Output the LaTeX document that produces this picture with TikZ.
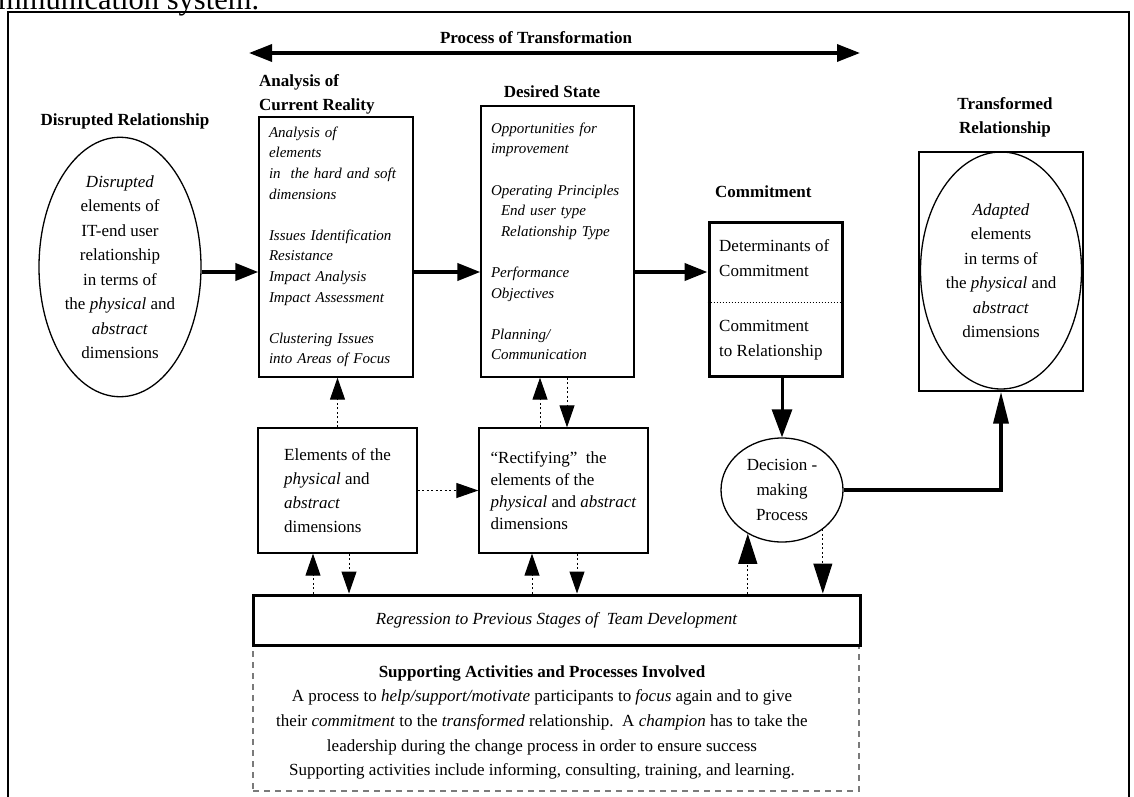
\documentclass[tikz,border=0pt]{standalone}
\usepackage{fontspec}
\setmainfont{Liberation Serif}
\usetikzlibrary{arrows.meta,positioning,calc,shapes.geometric}
\definecolor{ink}{HTML}{000000}
\definecolor{dashgray}{HTML}{7A7A7A}
\newcommand{\bodyfont}{\fontsize{17}{24.5}\selectfont}
\newcommand{\headfont}{\fontsize{17}{24}\selectfont\bfseries}
\newcommand{\listfont}{\fontsize{15}{20.6}\selectfont\itshape}
\tikzset{box/.style={draw=ink,line width=1.3pt,inner sep=0pt},
  ell/.style={ellipse,draw=ink,line width=1.3pt,inner sep=0pt,align=center,font=\bodyfont},
  lab/.style={font=\headfont,inner sep=0pt},
  txt/.style={font=\bodyfont,inner sep=0pt},
  lst/.style={box,font=\listfont,align=left,inner xsep=10pt,inner ysep=0pt},
  flow/.style={draw=ink,line width=4pt,-{Triangle[length=23pt,width=17pt]}},
  dflow/.style={draw=ink,line width=1pt,dash pattern=on 2pt off 2.5pt,-{Triangle[length=22pt,width=15pt]}},
  bdflow/.style={dflow,-{Triangle[length=30pt,width=19pt]}}}

\begin{document}
\begin{tikzpicture}[x=1pt,y=-1pt]
\useasboundingbox (0,0) rectangle (1134,797);
\begin{scope}
\clip (0,0) rectangle (1134,797);
\node[font=\fontsize{30.5}{30}\selectfont,anchor=base west,inner sep=0pt] (cap) at (-2,10) {mmunication system.};
\draw[line width=2pt] (8,805) -- (8,12) -- (1129,12) -- (1129,805);
\end{scope}
\coordinate (pL) at (249,53);
\coordinate (pR) at (860,53);
\coordinate (mid) at (0,272);
\node[lab,anchor=base] (proc) at (536,44) {Process of Transformation};
\draw[draw=ink,line width=3.5pt,{Triangle[length=23pt,width=17pt]}-{Triangle[length=23pt,width=17pt]}] (pL) -- (pR);
\node[lab,anchor=base] (dislab) at (125,125) {Disrupted Relationship};
\node[lab,anchor=north west,align=left] (analab) at (259,74) {Analysis of\\Current Reality};
\node[lab,anchor=base] (deslab) at (552,98) {Desired State};
\node[lab,anchor=base west] (comlab) at (715,197) {Commitment};
\node[lab,anchor=north,align=center] (trnlab) at (1005,97) {Transformed\\Relationship};
\node[ell,minimum width=162pt,minimum height=240pt] (dis) at (120,267) {\textit{Disrupted}\\elements of\\IT-end user\\relationship\\in terms of\\the \textit{physical} and\\\textit{abstract}\\dimensions};
\node[lst,text width=134pt,minimum height=260pt] (ana) at (336,247) {Analysis of\\elements\\in\ \ the hard and soft\\dimensions\\[20.6pt]Issues Identification\\Resistance\\Impact Analysis\\Impact Assessment\\[20.6pt]Clustering Issues\\into Areas of Focus};
\node[lst,text width=133pt,minimum height=271pt] (des) at (557.5,241.5) {Opportunities for\\improvement\\[20.6pt]Operating Principles\\\hspace*{10pt}End user type\\\hspace*{10pt}Relationship Type\\[20.6pt]Performance\\Objectives\\[20.6pt]Planning/\\Communication};
\node[box,line width=3pt,minimum width=133pt,minimum height=154pt] (com) at (775.5,299) {};
\draw[draw=ink,line width=1pt,dotted] ([yshift=-3pt]com.west) -- ([yshift=-3pt]com.east);
\node[txt,anchor=west,align=left] (detm) at (719,258) {Determinants of\\Commitment};
\node[txt,anchor=west,align=left] (crel) at (719,340) {Commitment\\to Relationship};
\node[box,minimum width=164pt,minimum height=239pt] (trnbox) at (1001,271.5) {};
\node[ell,minimum width=161pt,minimum height=237pt] (trn) at (1001,270.5) {\textit{Adapted}\\elements\\in terms of\\the \textit{physical} and\\\textit{abstract}\\dimensions};
\node[box,txt,align=left,minimum width=159pt,minimum height=125pt,font=\fontsize{17}{24}\selectfont] (ele) at (337.5,490.5) {Elements of the\\\textit{physical} and\\\textit{abstract}\\dimensions};
\node[box,txt,align=left,minimum width=169pt,minimum height=125pt,font=\fontsize{17}{22}\selectfont] (rec) at (563.5,490.5) {“Rectifying”\ \ the\\elements of the\\\textit{physical} and \textit{abstract}\\dimensions};
\node[ell,minimum width=122pt,minimum height=104pt,font=\fontsize{17}{25}\selectfont] (dec) at (782,490) {Decision -\\making\\Process};
\node[box,draw=dashgray,dash pattern=on 6pt off 5pt,minimum width=606pt,minimum height=146pt] (sup) at (556,718) {};
\node[box,line width=3pt,fill=white,minimum width=607pt,minimum height=50pt,font=\bodyfont\itshape] (reg) at (556.5,620) {Regression to Previous Stages of\ \ Team Development};
\node[txt,anchor=north,align=center,font=\fontsize{17}{24.7}\selectfont] (suptxt) at (542,665) {\textbf{Supporting Activities and Processes Involved}\\A process to \textit{help/support/motivate} participants to \textit{focus} again and to give\\their \textit{commitment} to the \textit{transformed} relationship.\ \ A \textit{champion} has to take the\\leadership during the change process in order to ensure success\\Supporting activities include informing, consulting, training, and learning.};
\draw[flow] (dis.east |- mid) -- (ana.west |- mid);
\draw[flow] (ana.east |- mid) -- (des.west |- mid);
\draw[flow] (des.east |- mid) -- (com.west |- mid);
\draw[draw=ink,line width=3pt,-{Triangle[length=28pt,width=20pt]}] (dec.north |- com.south) -- (dec.north);
\draw[draw=ink,line width=3.5pt,-{Triangle[length=32pt,width=15pt]}] (dec.east) -| (trnbox.south);
\draw[dflow] (ele.north) -- (ele.north |- ana.south);
\draw[dflow] (ele.east) -- (ele.east -| rec.west);
\draw[dflow] ([xshift=-23.5pt]rec.north) -- ([xshift=-23.5pt]rec.north |- des.south);
\draw[dflow] ([xshift=3.5pt]rec.north |- des.south) -- ([xshift=3.5pt]rec.north);
\draw[dflow] ([xshift=-24.5pt]ele.south |- reg.north) -- ([xshift=-24.5pt]ele.south);
\draw[dflow] ([xshift=11.5pt]ele.south) -- ([xshift=11.5pt]ele.south |- reg.north);
\draw[dflow] ([xshift=-31.5pt]rec.south |- reg.north) -- ([xshift=-31.5pt]rec.south);
\draw[dflow] ([xshift=13.5pt]rec.south) -- ([xshift=13.5pt]rec.south |- reg.north);
\draw[bdflow] (dec.232 |- reg.north) -- (dec.232);
\draw[bdflow] (dec.316) -- (dec.316 |- reg.north);
\end{tikzpicture}
\end{document}
